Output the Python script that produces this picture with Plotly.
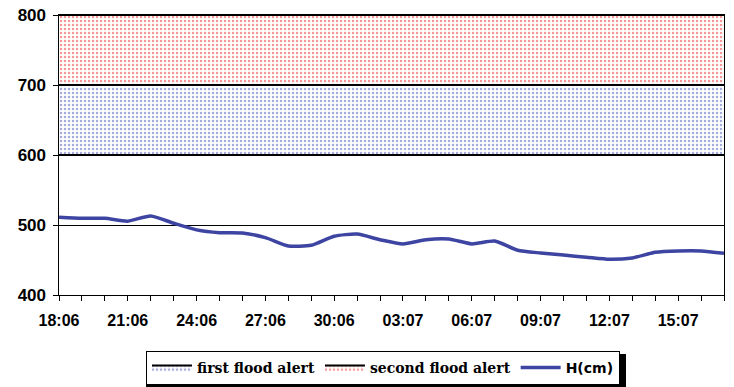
import plotly.graph_objects as go
import pandas as pd

# ---- data ----
dates = pd.date_range("2014-06-18", "2014-07-17", freq="D").strftime("%Y-%m-%d").tolist()
h_cm = [511, 509.5, 509.5, 505.5, 513, 502.5, 493, 489, 488.5, 482,
        470, 471, 484, 487, 479, 473, 479, 480, 473, 477,
        464, 460, 457, 454, 451, 453, 461, 463, 463, 459.5]
first_alert = [600, 700]
second_alert = [700, 800]
y_ticks = [400, 500, 600, 700, 800]
tick_labels = [d if i % 3 == 0 else "" for i, d in enumerate(
    pd.date_range("2014-06-18", "2014-07-17", freq="D").strftime("%d:%m").tolist())]

sans = "Liberation Sans"

# layout geometry (pixels)
W, H = 734, 387
ML, MR, MT, MB = 40, 10, 15, 92
PLOT_L = 59
pw = W - ML - MR
ph = H - MT - MB


def px(x):
    return (x - ML) / pw


def py(y):
    return (H - MB - y) / ph


fig = go.Figure()

fig.add_trace(go.Scatter(x=[dates[0], dates[-1]], y=[first_alert[0]] * 2, mode="lines",
                         line=dict(color="black", width=2), showlegend=False, hoverinfo="skip"))
fig.add_trace(go.Scatter(x=[dates[0], dates[-1]], y=[first_alert[1]] * 2, mode="lines",
                         line=dict(color="black", width=2), fill="tonexty",
                         fillcolor="white",
                         fillpattern=dict(shape=".", fgcolor="#4a56b8", bgcolor="white",
                                          size=4, solidity=0.3),
                         name="<span style='font-family:DejaVu Serif'><b>first flood alert</b></span>"))
fig.add_trace(go.Scatter(x=[dates[0], dates[-1]], y=[second_alert[1]] * 2, mode="lines",
                         line=dict(color="black", width=2), fill="tonexty",
                         fillcolor="white",
                         fillpattern=dict(shape=".", fgcolor="#e83030", bgcolor="white",
                                          size=4, solidity=0.3),
                         name="<span style='font-family:DejaVu Serif'><b>second flood alert</b></span>"))
fig.add_trace(go.Scatter(x=dates, y=h_cm, mode="lines",
                         line=dict(color="#3d44a2", width=3.5, shape="spline", smoothing=0.6),
                         name="<span style='font-family:DejaVu Sans'><b>H(cm)</b></span>"))

# legend shadow
fig.add_shape(type="rect", xref="paper", yref="paper",
              x0=px(146), x1=px(626), y0=py(388), y1=py(354),
              fillcolor="black", line=dict(width=0), layer="below")

fig.update_layout(
    width=W, height=H,
    margin=dict(l=ML, r=MR, t=MT, b=MB, autoexpand=False),
    paper_bgcolor="white", plot_bgcolor="white",
    font=dict(family=sans, size=13, color="black"),
    legend=dict(orientation="h", x=px(383), xanchor="center",
                y=py(351), yanchor="top", traceorder="normal",
                bgcolor="white", bordercolor="black", borderwidth=1,
                font=dict(family=sans, size=14, color="black"),
                itemwidth=40, tracegroupgap=0),
    xaxis=dict(type="date", range=[dates[0], dates[-1]], domain=[px(PLOT_L), 1],
               tickvals=dates, ticktext=tick_labels, automargin=False,
               ticks="outside", ticklen=5, tickcolor="black", tickwidth=1,
               ticklabelstandoff=6,
               showline=True, linecolor="black", linewidth=1, mirror=True,
               showgrid=False, zeroline=False,
               tickfont=dict(family=sans, size=16, weight="bold")),
    yaxis=dict(range=[400, 800], tickvals=y_ticks, automargin=False,
               ticks="outside", ticklen=5, tickcolor="black", showticklabels=False,
               showline=True, linecolor="black", linewidth=1, mirror=True,
               showgrid=True, gridcolor="black", gridwidth=1, zeroline=False),
    yaxis2=dict(overlaying="y", matches="y", anchor="free", position=px(46),
                range=[400, 800], tickvals=y_ticks, automargin=False,
                ticks="", showline=False, showgrid=False, zeroline=False,
                tickfont=dict(family=sans, size=17, weight="bold")),
)
# invisible trace to bind yaxis2 to the figure
fig.add_trace(go.Scatter(x=[dates[0]], y=[y_ticks[0]], yaxis="y2", mode="markers",
                         marker=dict(opacity=0), showlegend=False, hoverinfo="skip"))

fig.write_html("out.html", config={"displayModeBar": False},
               post_script="document.body.style.margin='0';document.body.style.overflow='hidden';")
